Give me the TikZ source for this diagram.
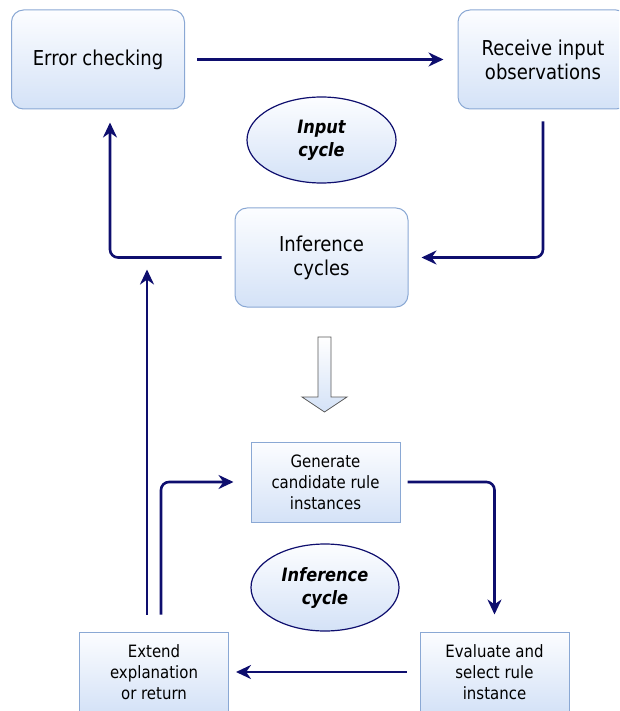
\documentclass[tikz,border=0pt]{standalone}
\usepackage{fontspec}
\setmainfont{DejaVu Sans}[FakeStretch=0.88]
\usetikzlibrary{arrows.meta,shapes.geometric}
\definecolor{navy}{RGB}{14,14,110}
\definecolor{boxline}{RGB}{138,168,212}
\definecolor{boxtop}{RGB}{252,253,255}
\definecolor{boxbot}{RGB}{212,226,247}
\tikzset{
  bigbox/.style={draw=boxline, line width=1pt, rounded corners=12pt,
    top color=boxtop, bottom color=boxbot, minimum width=173pt,
    minimum height=99pt, align=center, font=\fontsize{20.5}{24}\selectfont},
  smallbox/.style={draw=boxline, line width=1pt, top color=boxtop,
    bottom color=boxbot, minimum width=149pt, minimum height=80pt,
    align=center, font=\fontsize{17}{21}\selectfont},
  cyclelabel/.style={ellipse, draw=navy, line width=1.2pt, top color=boxtop,
    bottom color=boxbot, minimum width=149pt, minimum height=86pt,
    inner sep=0pt, align=center,
    font=\fontsize{18.4}{23}\selectfont\bfseries\itshape},
  flow/.style={draw=navy, line width=2.6pt, rounded corners=8pt,
    -{Stealth[length=15pt,width=14pt]}},
}
\begin{document}
\begin{tikzpicture}[x=1pt,y=-1pt]
    \useasboundingbox (0,0) rectangle (619,711);
    \clip (0,0) rectangle (619,711);

    % Input cycle
    \node[bigbox] (err) at (98,59.5) {Error checking};
    \node[bigbox, minimum width=170pt] (recv) at (543,59.5) {Receive input\\observations};
    \node[cyclelabel] (inpcyc) at (321.5,140) {Input\\cycle};
    \node[bigbox] (infc) at (321.5,257.5) {Inference\\cycles};

    \draw[flow, shorten <=12pt, shorten >=14pt] (err.east) -- (recv.west);
    \draw[flow, shorten <=12pt, shorten >=13pt] (recv.south) |- (infc.east);
    \draw[flow, shorten <=13pt, shorten >=13pt] (infc.west) -| ([xshift=12pt]err.south);

    % Expansion arrow
    \draw[gray!70!black, line width=0.8pt, top color=white, bottom color=boxbot]
      (318,337) -- (331,337) -- (331,397) -- (347,397) -- (324.5,412)
      -- (302,397) -- (318,397) -- cycle;

    % Inference cycle
    \node[smallbox] (gen) at (325.5,482) {Generate\\candidate rule\\instances};
    \node[cyclelabel, minimum width=148pt, minimum height=87pt] (infcyc) at (325,587.5) {Inference\\cycle};
    \node[smallbox] (ext) at (154,672) {Extend\\explanation\\or return};
    \node[smallbox] (eval) at (494.5,672) {Evaluate and\\select rule\\instance};

    \draw[flow, shorten <=7pt, shorten >=17pt] (gen.east) -| (eval.north);
    \draw[flow, shorten <=13pt, shorten >=7pt] (eval.west) -- (ext.east);
    \draw[flow, shorten <=17pt, shorten >=17pt] ([xshift=7pt]ext.north) |- (gen.west);
    \draw[flow, shorten <=17pt, shorten >=12pt] ([xshift=-7pt]ext.north) -- ([xshift=-7pt]ext.north |- infc.west);
\end{tikzpicture}
\end{document}
